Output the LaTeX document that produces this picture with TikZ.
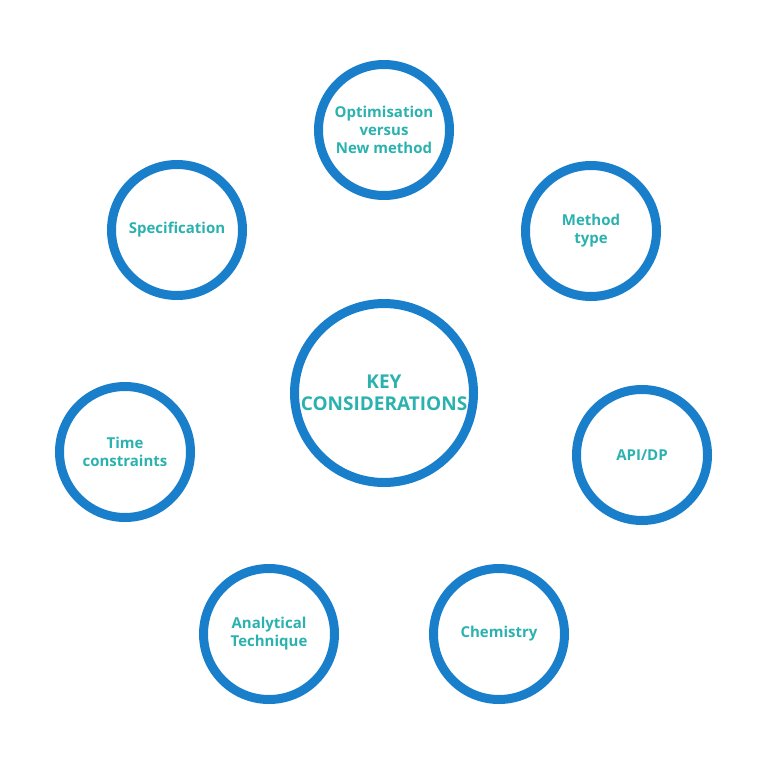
\documentclass[tikz,border=0pt]{standalone}
\usepackage{fontspec}
\setmainfont{Open Sans}
\definecolor{ringblue}{HTML}{1A7FCB}
\definecolor{textteal}{HTML}{2BB1AE}

\begin{document}
\begin{tikzpicture}[x=1pt,y=-1pt]
  \tikzset{
    topic/.style={circle,draw=ringblue,line width=9pt,minimum size=131pt,
      inner sep=0pt,align=center,text=textteal,font=\bfseries\fontsize{15}{18}\selectfont},
    hub/.style={topic,minimum size=179pt,font=\bfseries\fontsize{19}{22}\selectfont}
  }
  \useasboundingbox (0,0) rectangle (768,768);
  \node[hub] (key) at (384,393) {KEY\\CONSIDERATIONS};
  \node[topic] (opt)  at (384,130) {Optimisation\\versus\\New method};
  \node[topic] (meth) at (591,231) {Method\\type};
  \node[topic] (api)  at (642,455) {API/DP};
  \node[topic] (chem) at (499,634) {Chemistry};
  \node[topic] (anal) at (269,634) {Analytical\\Technique};
  \node[topic] (time) at (125,452) {Time\\constraints};
  \node[topic] (spec) at (177,230) {Specification};
\end{tikzpicture}
\end{document}
